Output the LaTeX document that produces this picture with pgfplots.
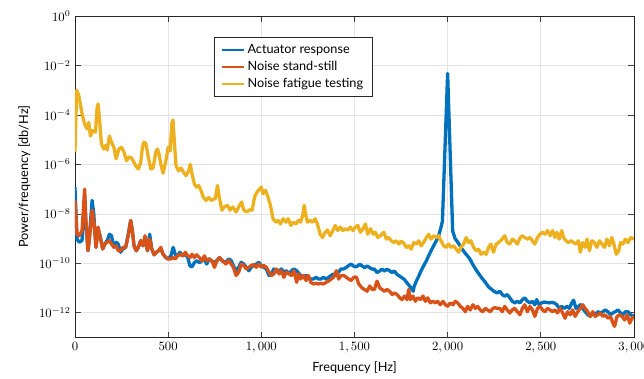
\documentclass[border=0pt]{standalone}
\usepackage{fontspec}
\setmainfont{Lato}
\usepackage{pgfplots}
\pgfplotsset{compat=1.18}

\definecolor{actblue}{RGB}{0,114,189}
\definecolor{noiseorange}{RGB}{217,83,25}
\definecolor{fatigueyellow}{RGB}{237,177,32}

\begin{document}
\begin{tikzpicture}
\begin{axis}[
  scale only axis,
  width=440pt, height=253pt,
  ymode=log,
  xmin=0, xmax=3000,
  ymin=1e-13, ymax=1,
  xtick={0,500,1000,1500,2000,2500,3000},
  ytick={1e-12,1e-10,1e-8,1e-6,1e-4,1e-2,1},
  yminorticks=false,
  /pgf/number format/1000 sep={{,}},
  xlabel={Frequency [Hz]},
  ylabel={Power/frequency [db/Hz]},
  grid=major,
  major grid style={draw=black!11, line width=0.5pt},
  axis line style={draw=black!85, line width=0.6pt},
  tick style={draw=black!75, line width=0.5pt},
  major tick length=4.5pt,
  tick align=inside,
  xtick pos=both, ytick pos=both,
  legend style={at={(0.2495,0.9346)}, anchor=north west, draw=black!85,
    line width=0.6pt, fill=white, font=\normalsize, cells={anchor=west},
    inner xsep=5pt, inner ysep=3.5pt, row sep=0.6pt},
  legend image post style={line width=1.7pt},
  every axis plot/.append style={line width=2.6pt, line join=round},
]

% Actuator response
\addplot[color=actblue] table {
f p
0 1.2e-7
11 9.5e-10
23 7.1e-10
38 8.3e-10
52 5.0e-8
58 5.0e-9
70 3.2e-10
77 1.1e-9
92 3.5e-8
101 1.0e-8
113 4.4e-10
124 2.5e-9
137 1.1e-9
149 3.8e-10
160 6.0e-10
173 8.3e-10
185 1.5e-9
196 1.3e-9
209 4.4e-10
221 7.1e-10
232 6.0e-10
245 2.8e-10
257 3.8e-10
272 4.4e-10
286 1.5e-9
299 5.4e-9
308 2.1e-9
317 5.1e-10
329 3.2e-10
340 4.4e-10
353 8.3e-10
365 5.1e-10
376 9.5e-10
389 3.2e-10
401 1.5e-9
412 3.8e-10
425 2.2e-10
437 2.8e-10
448 3.2e-10
461 3.8e-10
473 2.3e-10
488 1.7e-10
500 1.5e-10
515 2.0e-10
527 4.4e-10
538 2.3e-10
551 2.0e-10
563 2.8e-10
578 2.0e-10
592 2.3e-10
605 1.7e-10
617 7.9e-11
628 7.2e-11
641 1.07e-10
653 1.26e-10
668 1.07e-10
682 1.26e-10
695 1.5e-10
707 9.3e-11
720 1.5e-10
736 1.2e-10
749 1.07e-10
761 1.26e-10
776 1.7e-10
790 1.26e-10
810 1.1e-10
825 1.5e-10
838 1.3e-10
850 8.1e-11
865 5.0e-11
879 6.9e-11
892 1.1e-10
906 9.3e-11
919 6.9e-11
933 5.0e-11
946 6.9e-11
959 8.1e-11
973 9.3e-11
987 1.1e-10
1000 8.1e-11
1013 6.9e-11
1027 5.9e-11
1041 3.2e-11
1054 3.7e-11
1067 5.9e-11
1081 4.4e-11
1096 5.0e-11
1108 5.9e-11
1121 4.4e-11
1135 5.0e-11
1150 3.7e-11
1162 5.0e-11
1175 5.9e-11
1190 5.0e-11
1211 3.2e-11
1226 2.7e-11
1240 3.2e-11
1253 2.7e-11
1265 2.3e-11
1280 2.3e-11
1294 2.7e-11
1307 2.3e-11
1320 2.3e-11
1334 2.7e-11
1348 2.3e-11
1361 2.7e-11
1374 3.2e-11
1388 3.7e-11
1403 3.2e-11
1415 4.4e-11
1428 5.9e-11
1442 5.9e-11
1457 6.9e-11
1469 8.1e-11
1482 9.3e-11
1496 7.6e-11
1510 7.2e-11
1529 9.1e-11
1541 7.8e-11
1554 6.6e-11
1568 7.8e-11
1582 6.6e-11
1595 5.8e-11
1607 5.8e-11
1621 4.2e-11
1636 4.9e-11
1648 5.8e-11
1661 4.9e-11
1675 5.8e-11
1689 4.9e-11
1702 4.2e-11
1714 4.9e-11
1729 3.5e-11
1743 3.0e-11
1755 2.6e-11
1768 2.2e-11
1782 1.6e-11
1796 1.2e-11
1809 8.7e-12
1815 7.4e-12
1821 1.2e-11
1832 1.9e-11
1845 3.0e-11
1857 4.9e-11
1871 7.8e-11
1886 1.26e-10
1898 2.0e-10
1911 3.2e-10
1925 5.1e-10
1939 8.1e-10
1952 1.3e-9
1964 2.8e-9
1972 5.0e-9
2000 4.8e-3
2027 2.0e-9
2040 1.0e-9
2059 6.3e-10
2075 4.0e-10
2095 2.5e-10
2117 1.6e-10
2139 7.9e-11
2160 4.5e-11
2184 2.5e-11
2200 1.8e-11
2220 1.1e-11
2235 8.9e-12
2248 7.4e-12
2266 6.3e-12
2280 7.4e-12
2293 5.4e-12
2306 4.7e-12
2320 5.4e-12
2334 4.0e-12
2347 2.9e-12
2360 2.5e-12
2374 2.9e-12
2388 2.5e-12
2401 3.4e-12
2414 4.0e-12
2428 2.9e-12
2442 2.5e-12
2455 2.9e-12
2468 2.1e-12
2478 3.4e-12
2491 2.1e-12
2504 2.5e-12
2518 2.7e-12
2532 2.6e-12
2545 2.5e-12
2558 2.6e-12
2572 2.5e-12
2586 2.1e-12
2599 1.5e-12
2612 1.8e-12
2626 1.5e-12
2640 1.8e-12
2653 1.5e-12
2666 2.5e-12
2676 3.2e-12
2689 1.5e-12
2702 1.8e-12
2712 2.1e-12
2725 1.5e-12
2738 1.1e-12
2752 8.3e-13
2766 7.1e-13
2779 9.8e-13
2792 8.3e-13
2806 1.1e-12
2820 9.8e-13
2833 1.1e-12
2846 1.3e-12
2860 1.1e-12
2874 8.3e-13
2887 9.8e-13
2900 1.1e-12
2914 1.3e-12
2928 9.8e-13
2941 8.3e-13
2954 1.1e-12
2968 1.1e-12
2982 8.3e-13
3000 7.1e-13
};
\addlegendentry{Actuator response}

% Noise at stand-still
\addplot[color=noiseorange] table {
f p
0 3.5e-8
11 1.5e-9
23 1.3e-9
38 2.1e-9
52 1.0e-7
58 7.2e-9
70 3.2e-10
77 8.3e-10
92 1.4e-8
101 5.4e-9
113 4.4e-10
124 2.9e-9
137 9.5e-10
149 3.8e-10
160 6.0e-10
173 7.1e-10
185 8.3e-10
196 6.0e-10
209 4.4e-10
221 5.1e-10
232 3.2e-10
245 3.2e-10
257 4.4e-10
272 4.4e-10
286 1.3e-9
299 5.4e-9
308 2.1e-9
317 5.1e-10
329 3.2e-10
340 4.4e-10
353 8.3e-10
365 5.1e-10
376 1.3e-9
389 3.2e-10
401 9.5e-10
412 3.8e-10
425 2.2e-10
437 2.8e-10
448 3.2e-10
461 4.4e-10
473 2.3e-10
488 1.7e-10
500 1.5e-10
515 1.5e-10
527 1.7e-10
538 1.5e-10
551 2.0e-10
563 2.3e-10
578 2.0e-10
592 2.8e-10
605 2.0e-10
617 1.7e-10
628 2.3e-10
641 1.7e-10
653 2.2e-10
668 1.7e-10
682 1.26e-10
695 2.0e-10
707 1.26e-10
722 1.5e-10
736 1.2e-10
749 6.8e-11
761 1.26e-10
776 1.7e-10
790 1.3e-10
810 9.3e-11
825 1.3e-10
838 9.3e-11
850 6.9e-11
865 3.2e-11
879 4.4e-11
892 9.3e-11
906 8.1e-11
919 5.9e-11
933 6.9e-11
946 8.1e-11
959 8.9e-11
973 6.9e-11
987 9.3e-11
1000 6.9e-11
1013 8.1e-11
1027 6.9e-11
1041 4.4e-11
1054 3.2e-11
1067 3.7e-11
1081 5.9e-11
1096 3.7e-11
1108 5.0e-11
1121 2.7e-11
1135 4.4e-11
1150 3.7e-11
1162 3.2e-11
1175 5.0e-11
1190 1.7e-11
1199 3.7e-11
1211 2.3e-11
1226 3.2e-11
1240 2.0e-11
1253 3.2e-11
1265 1.7e-11
1280 1.45e-11
1294 1.55e-11
1307 1.45e-11
1320 1.55e-11
1334 1.45e-11
1348 1.7e-11
1361 1.9e-11
1374 2.3e-11
1388 2.7e-11
1403 5.0e-11
1415 2.3e-11
1428 3.2e-11
1442 3.2e-11
1457 2.7e-11
1469 2.3e-11
1482 2.0e-11
1496 2.7e-11
1510 2.8e-11
1523 1.45e-11
1541 1.0e-11
1554 8.7e-12
1568 7.4e-12
1582 1.2e-11
1595 8.7e-12
1607 8.7e-12
1621 1.9e-11
1636 1.0e-11
1648 8.7e-12
1661 7.4e-12
1675 8.7e-12
1689 7.4e-12
1702 5.4e-12
1714 6.3e-12
1729 5.4e-12
1743 4.0e-12
1755 3.4e-12
1768 4.7e-12
1782 3.4e-12
1791 8.7e-12
1800 3.4e-12
1814 4.7e-12
1827 2.9e-12
1839 4.0e-12
1854 3.4e-12
1868 4.7e-12
1880 2.9e-12
1893 4.0e-12
1907 2.5e-12
1921 2.9e-12
1934 2.5e-12
1946 2.9e-12
1961 2.1e-12
1975 2.9e-12
1988 2.1e-12
2000 1.8e-12
2014 2.5e-12
2029 2.1e-12
2041 2.9e-12
2054 2.5e-12
2068 1.8e-12
2082 1.5e-12
2095 1.1e-12
2107 1.8e-12
2121 1.3e-12
2136 2.1e-12
2148 1.5e-12
2161 1.8e-12
2175 1.3e-12
2189 1.1e-12
2202 1.5e-12
2214 1.3e-12
2229 1.1e-12
2243 1.5e-12
2255 1.6e-12
2266 1.5e-12
2280 1.5e-12
2293 1.1e-12
2306 1.8e-12
2320 1.3e-12
2334 9.8e-13
2347 1.3e-12
2360 1.5e-12
2374 1.1e-12
2388 8.3e-13
2401 1.5e-12
2414 2.1e-12
2428 1.1e-12
2442 1.8e-12
2455 1.3e-12
2468 7.1e-13
2482 1.5e-12
2496 1.8e-12
2509 1.3e-12
2522 1.1e-12
2536 1.5e-12
2550 1.3e-12
2563 1.1e-12
2576 1.3e-12
2590 9.8e-13
2604 1.5e-12
2617 9.8e-13
2630 6.0e-13
2644 1.1e-12
2658 8.3e-13
2671 1.3e-12
2684 7.1e-13
2698 1.1e-12
2712 1.5e-12
2725 2.1e-12
2738 1.5e-12
2752 1.1e-12
2766 7.1e-13
2779 1.1e-12
2792 7.1e-13
2806 8.3e-13
2820 9.8e-13
2833 7.1e-13
2846 8.3e-13
2860 6.0e-13
2874 7.1e-13
2887 3.8e-13
2896 2.8e-13
2909 7.1e-13
2923 8.3e-13
2936 7.1e-13
2950 5.1e-13
2964 8.3e-13
2977 3.8e-13
2990 6.0e-13
3000 7.1e-13
};
\addlegendentry{Noise stand-still}

% Noise during fatigue testing
\addplot[color=fatigueyellow] table {
f p
0 3.2e-6
9 1.0e-3
20 6.3e-4
30 2.5e-4
38 1.1e-4
52 4.4e-5
65 2.7e-5
74 5.0e-5
83 1.4e-5
95 2.3e-5
110 2.0e-5
119 2.0e-4
124 2.8e-4
131 7.9e-5
142 6.6e-6
155 4.2e-6
164 5.8e-6
173 3.8e-6
185 1.4e-5
196 7.9e-6
209 4.9e-6
221 1.7e-6
236 4.2e-6
250 4.9e-6
263 3.1e-6
277 1.4e-6
290 2.0e-6
304 1.8e-6
317 1.2e-6
329 8.1e-7
340 6.5e-7
353 1.2e-6
362 5.0e-6
370 7.9e-6
380 7.1e-6
394 1.9e-6
407 6.5e-7
419 7.1e-7
434 3.1e-6
443 4.2e-6
452 2.5e-6
461 1.0e-6
473 4.4e-7
488 1.4e-6
500 4.9e-6
511 3.5e-6
520 4.4e-5
526 6.3e-5
533 9.3e-6
542 8.9e-7
556 5.5e-7
569 7.1e-7
583 4.8e-7
596 3.5e-7
610 5.5e-7
619 1.0e-6
628 4.1e-7
641 1.6e-7
653 1.2e-7
664 1.4e-7
677 8.5e-8
689 4.6e-8
704 3.5e-8
718 4.6e-8
731 3.5e-8
744 3.9e-8
753 4.1e-8
765 1.4e-7
774 4.8e-8
789 1.4e-8
801 1.9e-8
819 2.2e-8
832 1.4e-8
847 1.9e-8
865 1.2e-8
883 2.2e-8
895 3.0e-8
906 1.4e-8
922 1.2e-8
937 1.45e-8
951 1.4e-8
964 4.8e-8
977 7.6e-8
991 1.0e-7
1000 1.2e-7
1009 6.5e-8
1023 8.9e-8
1036 4.8e-8
1049 2.2e-8
1063 6.3e-9
1078 4.6e-9
1090 5.4e-9
1103 3.9e-9
1117 6.3e-9
1132 4.6e-9
1144 6.3e-9
1159 3.4e-9
1171 4.6e-9
1186 3.9e-9
1199 5.4e-9
1211 4.6e-9
1222 8.5e-9
1230 2.2e-8
1238 1.0e-8
1247 4.6e-9
1262 5.4e-9
1276 4.6e-9
1289 6.3e-9
1301 3.9e-9
1316 1.5e-9
1328 1.1e-9
1343 1.8e-9
1355 2.2e-9
1370 1.3e-9
1384 2.1e-9
1397 3.4e-9
1410 2.1e-9
1424 2.9e-9
1438 2.1e-9
1451 2.5e-9
1464 2.2e-9
1478 2.9e-9
1492 2.1e-9
1505 2.9e-9
1518 3.4e-9
1532 1.8e-9
1546 2.5e-9
1559 3.9e-9
1571 1.5e-9
1586 2.5e-9
1600 1.5e-9
1612 1.8e-9
1625 1.1e-9
1639 1.3e-9
1657 1.8e-9
1671 9.5e-10
1684 1.1e-9
1698 8.1e-10
1711 6.9e-10
1725 8.1e-10
1738 6.0e-10
1750 7.8e-10
1764 6.5e-10
1779 4.4e-10
1791 5.1e-10
1804 3.7e-10
1818 6.9e-10
1832 6.0e-10
1845 8.1e-10
1857 5.1e-10
1871 6.9e-10
1886 1.1e-9
1898 1.5e-9
1911 9.5e-10
1925 1.3e-9
1939 1.1e-9
1952 1.3e-9
1964 8.1e-10
1979 5.1e-10
1993 4.4e-10
2005 6.0e-10
2018 4.4e-10
2032 5.1e-10
2046 3.7e-10
2059 2.8e-10
2071 4.4e-10
2086 6.0e-10
2100 1.1e-9
2112 6.9e-10
2125 8.1e-10
2139 4.4e-10
2154 3.2e-10
2166 3.7e-10
2179 2.3e-10
2193 2.8e-10
2207 2.3e-10
2220 4.4e-10
2232 6.0e-10
2246 2.8e-10
2261 6.0e-10
2273 6.9e-10
2293 9.5e-10
2306 1.3e-9
2320 6.9e-10
2334 6.0e-10
2347 9.5e-10
2360 8.1e-10
2374 6.0e-10
2388 1.05e-9
2401 1.3e-9
2414 1.1e-9
2428 9.5e-10
2442 1.1e-9
2455 8.1e-10
2468 6.0e-10
2482 1.1e-9
2496 1.5e-9
2509 1.8e-9
2522 1.5e-9
2536 2.1e-9
2550 1.3e-9
2563 2.1e-9
2576 1.1e-9
2586 1.8e-9
2599 9.5e-10
2612 2.1e-9
2622 1.1e-9
2635 8.1e-10
2648 6.9e-10
2662 8.1e-10
2676 6.9e-10
2689 6.0e-10
2702 8.1e-10
2712 2.8e-10
2725 6.9e-10
2738 4.4e-10
2748 9.5e-10
2761 3.2e-10
2774 8.1e-10
2788 6.9e-10
2801 4.4e-10
2815 8.1e-10
2828 6.0e-10
2842 4.4e-10
2855 9.5e-10
2869 5.1e-10
2881 1.1e-9
2892 6.0e-10
2905 2.3e-10
2918 3.2e-10
2928 6.9e-10
2941 6.0e-10
2954 9.5e-10
2968 6.9e-10
2982 1.1e-9
3000 9.5e-10
};
\addlegendentry{Noise fatigue testing}

\end{axis}
% page frame: the last x tick label runs past the right edge
\pgfresetboundingbox
\path[use as bounding box]
  ([xshift=-59pt, yshift=-32.3pt]current axis.south west)
  rectangle ([xshift=7.9pt, yshift=12.6pt]current axis.north east);
\end{tikzpicture}
\end{document}
